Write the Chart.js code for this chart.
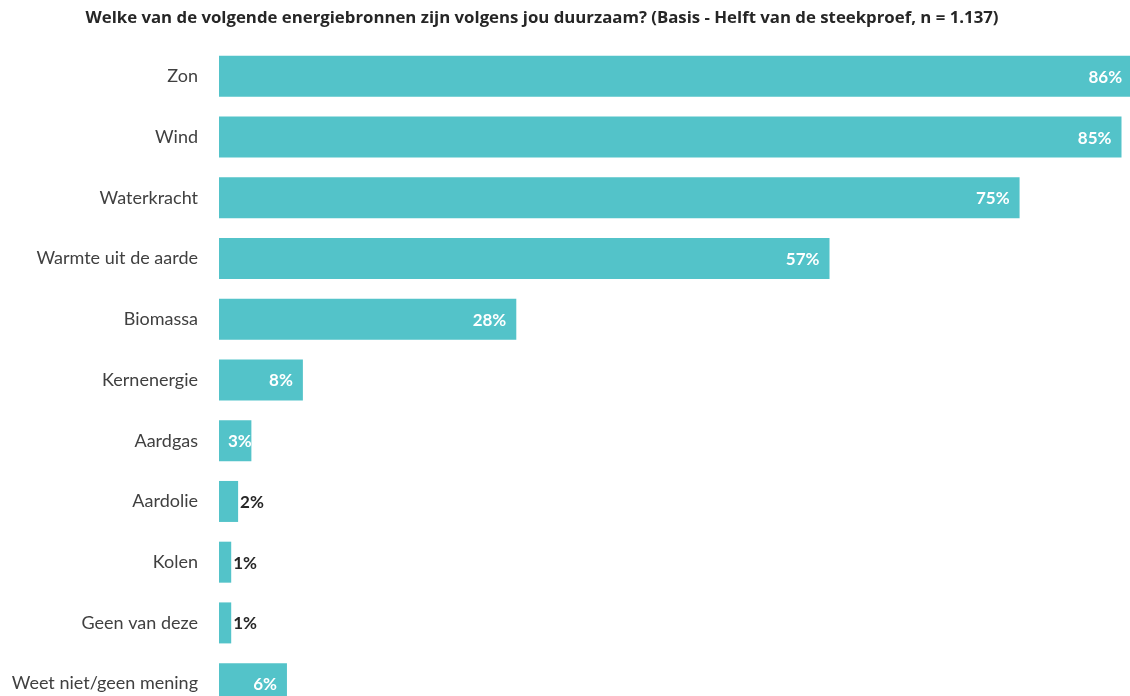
<!DOCTYPE html>
<html>
<head>
<meta charset="utf-8">
<script src="https://cdn.jsdelivr.net/npm/chart.js@4/dist/chart.umd.min.js"></script>
<style>
  html, body { margin: 0; padding: 0; background: #ffffff; overflow: hidden; }
</style>
</head>
<body>
<canvas id="c" width="1130" height="696"></canvas>
<script>
const titleText = 'Welke van de volgende energiebronnen zijn volgens jou duurzaam? (Basis - Helft van de steekproef, n = 1.137)';
const categories = ['Zon', 'Wind', 'Waterkracht', 'Warmte uit de aarde', 'Biomassa', 'Kernenergie', 'Aardgas', 'Aardolie', 'Kolen', 'Geen van deze', 'Weet niet/geen mening'];
const values = [86, 85, 75.4, 57.5, 28, 7.9, 3.05, 1.8, 1.15, 1.15, 6.4];
const valueLabels = ['86%', '85%', '75%', '57%', '28%', '8%', '3%', '2%', '1%', '1%', '6%'];

const barColor = '#53C3C9';
const textColor = '#404040';

// The plot area of the original extends below the visible picture (last bar is cut off).
const plotTop = 46;
const plotBottom = 714;

const areaPlugin = {
  id: 'areaPlugin',
  afterLayout(chart) {
    const y = chart.scales.y;
    chart.chartArea.top = plotTop;
    chart.chartArea.bottom = plotBottom;
    chart.chartArea.height = plotBottom - plotTop;
    y.top = plotTop;
    y.bottom = plotBottom;
    y.height = plotBottom - plotTop;
    y.configure();
    const x = chart.scales.x;
    x.top = plotBottom; x.bottom = plotBottom;
  }
};

const labelPlugin = {
  id: 'labelPlugin',
  afterDraw(chart) {
    const ctx = chart.ctx;
    ctx.save();
    // title
    ctx.fillStyle = '#262626';
    ctx.font = 'bold 16.8px "Open Sans"';
    ctx.textAlign = 'center';
    ctx.textBaseline = 'middle';
    ctx.fillText(titleText, 542, 18);
    // value labels
    const meta = chart.getDatasetMeta(0);
    ctx.font = 'bold 17px Lato';
    ctx.textBaseline = 'middle';
    meta.data.forEach((bar, i) => {
      const txt = valueLabels[i];
      const w = ctx.measureText(txt).width;
      const end = bar.x;
      const start = bar.base;
      ctx.textAlign = 'left';
      if (values[i] >= 3) {
        ctx.fillStyle = '#ffffff';
        const x = Math.max(end - 10 - w, start + 9);
        ctx.fillText(txt, x, bar.y + 1);
      } else {
        ctx.fillStyle = '#262626';
        ctx.fillText(txt, end + 2, bar.y + 1);
      }
    });
    ctx.restore();
  }
};

new Chart(document.getElementById('c'), {
  type: 'bar',
  data: {
    labels: categories,
    datasets: [{
      data: values,
      backgroundColor: barColor,
      borderWidth: 0,
      barPercentage: 0.675,
      categoryPercentage: 1.0
    }]
  },
  options: {
    indexAxis: 'y',
    responsive: false,
    maintainAspectRatio: false,
    animation: false,
    devicePixelRatio: 1,
    layout: { padding: { top: 46, bottom: 0, left: 0, right: 0 } },
    plugins: { legend: { display: false }, tooltip: { enabled: false }, title: { display: false } },
    scales: {
      x: { display: false, min: 0, max: 85.8 },
      y: {
        afterFit(scale) { scale.width = 219; },
        grid: { display: false, drawTicks: false },
        border: { display: false },
        ticks: { color: textColor, font: { family: 'Lato', size: 18 }, padding: 21 }
      }
    }
  },
  plugins: [areaPlugin, labelPlugin]
});
</script>
</body>
</html>
